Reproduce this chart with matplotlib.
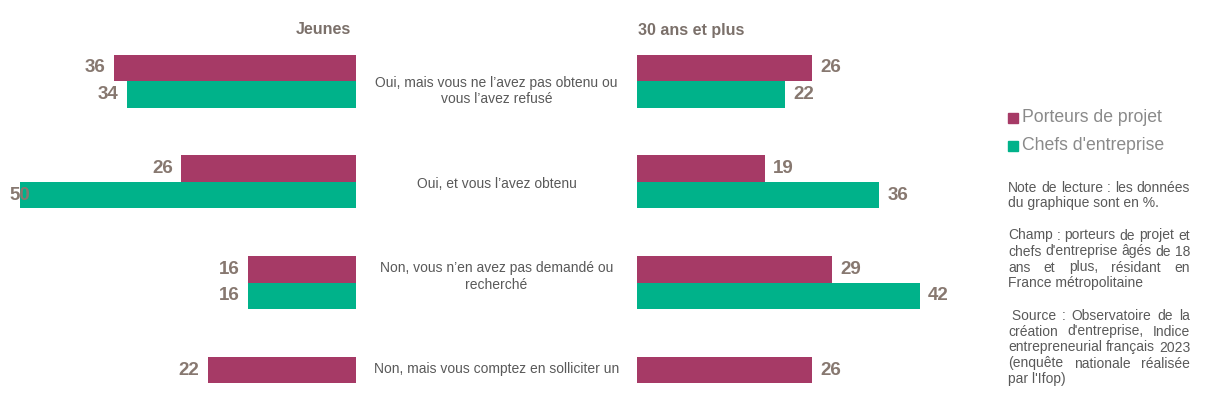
import numpy as np
import matplotlib
matplotlib.use('Agg')
import matplotlib.pyplot as plt
from matplotlib.lines import Line2D
from matplotlib.font_manager import FontProperties
from matplotlib.transforms import blended_transform_factory

plt.rcParams['font.family'] = ['Liberation Sans', 'DejaVu Sans']

# --- data ---
categories = [
    "Oui, mais vous ne l\u2019avez pas obtenu ou\nvous l\u2019avez refus\u00e9",
    "Oui, et vous l\u2019avez obtenu",
    "Non, vous n\u2019en avez pas demand\u00e9 ou\nrecherch\u00e9",
    "Non, mais vous comptez en solliciter un",
]
jeunes_porteurs = [36, 26, 16, 22]
jeunes_chefs = [34, 50, 16, np.nan]
plus30_porteurs = [26, 19, 29, 26]
plus30_chefs = [22, 36, 42, np.nan]

panel_titles = ["Jeunes", "30 ans et plus"]
series_names = ["Porteurs de projet", "Chefs d'entreprise"]

notes = [
    ["Note de lecture : les donn\u00e9es", "du graphique sont en %."],
    ["Champ : porteurs de projet et", "chefs d'entreprise \u00e2g\u00e9s de 18",
     "ans et plus, r\u00e9sidant en", "France m\u00e9tropolitaine"],
    [" Source : Observatoire de la", "cr\u00e9ation d'entreprise, Indice",
     "entrepreneurial fran\u00e7ais 2023", "(enqu\u00eate nationale r\u00e9alis\u00e9e",
     "par l'Ifop)"],
]

PURPLE = '#A63A66'
GREEN = '#00B28A'
VALUE_COLOR = '#877870'
TITLE_COLOR = '#7B706A'
TEXT_COLOR = '#595959'
LEGEND_COLOR = '#8A8A8A'

# --- layout (pixels) ---
W, H = 1205, 399
PX_PER_UNIT = 6.73
ROW_PX = 100.8
FIRST_ROW_PX = 81
bar_h = 26.5 / ROW_PX

fig = plt.figure(figsize=(W / 100, H / 100), dpi=100)


def panel(x0, x1):
    ax = fig.add_axes([x0 / W, 0, (x1 - x0) / W, 1])
    ax.set_ylim((H - FIRST_ROW_PX) / ROW_PX, -FIRST_ROW_PX / ROW_PX)
    ax.axis('off')
    return ax


ax_l = panel(0, 356)
ax_l.set_xlim(356 / PX_PER_UNIT, 0)
ax_r = panel(637, 1000)
ax_r.set_xlim(0, 363 / PX_PER_UNIT)


def draw(ax, porteurs, chefs, left):
    y = np.arange(len(categories))
    xmax = max(ax.get_xlim())
    for vals, off, col in ((porteurs, -bar_h / 2, PURPLE), (chefs, bar_h / 2, GREEN)):
        vals = np.array(vals, dtype=float)
        ok = ~np.isnan(vals)
        ax.barh(y[ok] + off, vals[ok], height=bar_h, color=col, linewidth=0)
        for yy, v in zip(y[ok] + off, vals[ok]):
            kw = dict(textcoords='offset points', va='center', fontsize=13.5,
                      fontweight='bold', color=VALUE_COLOR, zorder=5)
            if not left:
                ax.annotate(f"{v:.0f}", (v, yy), xytext=(6, 0), ha='left', **kw)
            elif v + 30 / PX_PER_UNIT > xmax:
                # no room on the left: keep the label inside the picture
                ax.annotate(f"{v:.0f}", (xmax, yy), xytext=(7, 0), ha='left', **kw)
            else:
                ax.annotate(f"{v:.0f}", (v, yy), xytext=(-6, 0), ha='right', **kw)


draw(ax_l, jeunes_porteurs, jeunes_chefs, True)
draw(ax_r, plus30_porteurs, plus30_chefs, False)

# category labels in the gap between the two panels
label_dy = [0.1, 0.02, -0.06, -0.14]
trans = blended_transform_factory(fig.transFigure, ax_l.transData)
for i, cat in enumerate(categories):
    ax_l.text(496.5 / W, i + label_dy[i], cat, transform=trans, ha='center',
              va='center', fontsize=10, color=TEXT_COLOR, linespacing=1.25)

fig.text(351 / W, 1 - 30 / H, panel_titles[0], ha='right', va='center',
         fontsize=11.5, fontweight='bold', color=TITLE_COLOR)
fig.text(638 / W, 1 - 30 / H, panel_titles[1], ha='left', va='center',
         fontsize=11.5, fontweight='bold', color=TITLE_COLOR)

# legend
for name, col, ypx in zip(series_names, [PURPLE, GREEN], [118, 146]):
    fig.add_artist(Line2D([1012.5 / W], [1 - ypx / H], marker='s', markersize=6.5,
                          color=col, linestyle='none', transform=fig.transFigure))
    fig.text(1022 / W, 1 - ypx / H, name, ha='left', va='center',
             fontsize=12.7, color=LEGEND_COLOR)

# justified notes: words placed by pen advance
renderer = fig.canvas.get_renderer()
note_prop = FontProperties(family='Liberation Sans', size=10)


def advance(s):
    # ink width of "|s|" minus ink width of "||" = pen advance of s
    w1 = renderer.get_text_width_height_descent('|' + s + '|', note_prop, ismath=False)[0]
    w0 = renderer.get_text_width_height_descent('||', note_prop, ismath=False)[0]
    return w1 - w0


space_w = advance(' ')
x0, x1 = 1008, 1190
line_px = 16
ypx = 191.5
for para in notes:
    for k, line in enumerate(para):
        yf = 1 - ypx / H
        kw = dict(va='baseline', fontproperties=note_prop, color=TEXT_COLOR)
        if k == len(para) - 1:
            fig.text(x0 / W, yf, line, ha='left', **kw)
        else:
            lead = ' ' if line.startswith(' ') else ''
            words = line.split()
            words[0] = lead + words[0]
            widths = [advance(w) for w in words]
            gap = max((x1 - x0 - sum(widths)) / (len(words) - 1), space_w)
            x = x0
            for w, wd in zip(words, widths):
                fig.text(x / W, yf, w, ha='left', **kw)
                x += wd + gap
        ypx += line_px
    ypx += line_px

fig.savefig('out.png', dpi=100)
